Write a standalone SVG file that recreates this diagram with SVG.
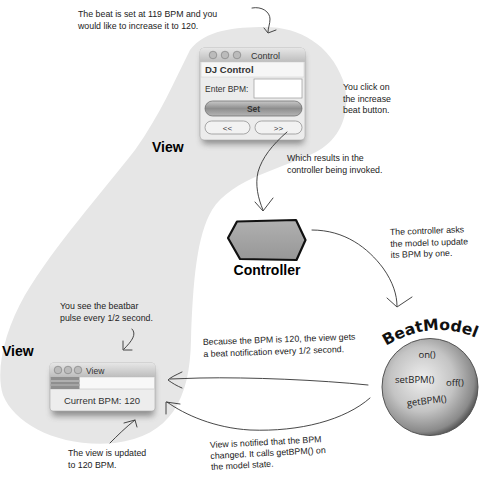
<svg xmlns="http://www.w3.org/2000/svg" width="480" height="483" viewBox="0 0 480 483">
<style>
.note{font-family:"Liberation Sans","DejaVu Sans",sans-serif;font-size:8.8px;fill:#222}
.lbl{font-family:"Liberation Sans",Arial,sans-serif;font-size:14px;font-weight:bold;fill:#000}
.ui{font-family:"Liberation Sans","DejaVu Sans",sans-serif;fill:#333}
.meth{font-family:"Open Sans","DejaVu Sans",sans-serif;font-size:9.5px;fill:#222}
.con{fill:none;stroke:#333;stroke-width:0.9;stroke-linecap:round;stroke-linejoin:round}
.light{fill:#bbb;stroke:#777;stroke-width:0.6}
</style>
<defs>
<linearGradient id="title" x1="0" y1="0" x2="0" y2="1"><stop offset="0" stop-color="#e6e6e6"/><stop offset="1" stop-color="#bdbdbd"/></linearGradient>
<linearGradient id="setbtn" x1="0" y1="0" x2="0" y2="1"><stop offset="0" stop-color="#c9c9c9"/><stop offset="0.5" stop-color="#8e8e8e"/><stop offset="1" stop-color="#b5b5b5"/></linearGradient>
<radialGradient id="ball" cx="0.42" cy="0.42" r="0.6"><stop offset="0" stop-color="#eeeeee"/><stop offset="0.55" stop-color="#c4c4c4"/><stop offset="0.9" stop-color="#8a8a8a"/><stop offset="1" stop-color="#5a5a5a"/></radialGradient>
<linearGradient id="hex" x1="0" y1="0" x2="0" y2="1"><stop offset="0" stop-color="#b0b0b0"/><stop offset="1" stop-color="#979797"/></linearGradient>
<filter id="sh" x="-20%" y="-20%" width="140%" height="160%"><feGaussianBlur stdDeviation="3"/></filter>
<path id="arcBM" d="M386 346 Q432 318 479 339"/>
</defs>

<path id="viewBlob" d="M265 27 C300 27 330 45 343 80 C352 110 342 138 316 152 C285 168 232 178 212 210 C197 235 193 280 191 340 C190 400 170 436 115 443 C60 448 15 425 3 395 C-5 370 5 330 25 295 C55 245 100 195 135 150 C160 115 175 80 190 50 C205 30 235 27 265 27 Z" fill="#e6e6e6"/>

<g id="controlWindow">
<rect x="202" y="54" width="102" height="90" rx="4" fill="#444" opacity="0.55" filter="url(#sh)"/>
<rect x="200" y="48" width="105" height="92" rx="4" fill="#ececec" stroke="#aaa" stroke-width="0.6"/>
<path d="M200 62 V52 a4 4 0 0 1 4 -4 H301 a4 4 0 0 1 4 4 V62 Z" fill="url(#title)"/>
<circle cx="213" cy="55" r="3.8" class="light"/><circle cx="225" cy="55" r="3.8" class="light"/><circle cx="237" cy="55" r="3.8" class="light"/>
<text x="251" y="58.5" class="ui" font-size="9">Control</text>
<rect x="201" y="62" width="103" height="15" fill="#f6f6f6" stroke="#ccc" stroke-width="0.5"/>
<text x="205" y="73" class="ui" font-size="9.5" font-weight="bold" fill="#444">DJ Control</text>
<text x="205" y="92" class="ui" font-size="8.5">Enter BPM:</text>
<rect x="254" y="79" width="48" height="19" fill="#fff" stroke="#999" stroke-width="0.7"/>
<rect x="205" y="101" width="97" height="15" rx="7.5" fill="url(#setbtn)" stroke="#666" stroke-width="0.7"/>
<text x="253.5" y="111.5" class="ui" font-size="8.5" font-weight="bold" text-anchor="middle">Set</text>
<rect x="205" y="121" width="45" height="13" rx="6.5" fill="#f2f2f2" stroke="#888" stroke-width="0.7"/>
<text x="227.5" y="130.5" class="ui" font-size="8" text-anchor="middle">&lt;&lt;</text>
<rect x="255" y="121" width="47" height="13" rx="6.5" fill="#f2f2f2" stroke="#888" stroke-width="0.7"/>
<text x="278.5" y="130.5" class="ui" font-size="8" text-anchor="middle">&gt;&gt;</text>
</g>

<g id="viewLabelTop"><text x="152" y="152" class="lbl">View</text></g>
<g id="viewLabelBottom"><text x="2" y="356" class="lbl">View</text></g>

<g id="viewWindow">
<rect x="52" y="370" width="102" height="46" rx="3" fill="#444" opacity="0.55" filter="url(#sh)"/>
<rect x="50" y="363" width="105" height="48" rx="3" fill="#ededed" stroke="#aaa" stroke-width="0.6"/>
<path d="M50 377 V366 a3 3 0 0 1 3 -3 H152 a3 3 0 0 1 3 3 V377 Z" fill="url(#title)"/>
<circle cx="58" cy="370" r="3.8" class="light"/><circle cx="68" cy="370" r="3.8" class="light"/><circle cx="78" cy="370" r="3.8" class="light"/>
<text x="86" y="373.5" class="ui" font-size="8.5">View</text>
<rect x="50.5" y="377" width="104" height="12" fill="#f8f8f8" stroke="#bbb" stroke-width="0.5"/>
<rect x="50.5" y="377" width="29" height="12" fill="#8f8f8f"/>
<rect x="50.5" y="380" width="29" height="2" fill="#b0b0b0"/>
<rect x="50.5" y="384" width="29" height="2" fill="#a5a5a5"/>
<text x="102" y="403.5" class="ui" font-size="9.5" text-anchor="middle">Current BPM: 120</text>
</g>

<g id="controller">
<path d="M237 221.5 L296 220 L305.5 240 L296.5 260 L240 259 L228 238 Z" fill="url(#hex)" stroke="#111" stroke-width="2.2" stroke-linejoin="round"/>
<text x="267" y="275" class="lbl" font-size="13.5" text-anchor="middle">Controller</text>
</g>

<g id="beatModel">
<ellipse cx="430" cy="387" rx="48" ry="48.5" fill="url(#ball)" stroke="#555" stroke-width="1"/>
<text font-family="DejaVu Sans,Verdana,sans-serif" font-weight="bold" font-size="15.5" fill="#111"><textPath href="#arcBM" textLength="94" lengthAdjust="spacingAndGlyphs">BeatModel</textPath></text>
<text x="427" y="358" class="meth" text-anchor="middle">on()</text>
<text x="395" y="383" class="meth">setBPM()</text>
<text x="446" y="386" class="meth">off()</text>
<text x="427" y="404" class="meth" text-anchor="middle" transform="rotate(-7 427 404)">getBPM()</text>
</g>

<g id="notes">
<text class="note"><tspan x="78" y="17">The beat is set at 119 BPM and you</tspan><tspan x="78" y="29">would like to increase it to 120.</tspan></text>
<text class="note"><tspan x="343" y="90">You click on</tspan><tspan x="343" y="102">the increase</tspan><tspan x="343" y="113">beat button.</tspan></text>
<text class="note"><tspan x="287" y="161">Which results in the</tspan><tspan x="287" y="173">controller being invoked.</tspan></text>
<text class="note" transform="rotate(-2 390 235)"><tspan x="390" y="235">The controller asks</tspan><tspan x="390" y="247">the model to update</tspan><tspan x="390" y="258">its BPM by one.</tspan></text>
<text class="note"><tspan x="60" y="309">You see the beatbar</tspan><tspan x="60" y="321">pulse every 1/2 second.</tspan></text>
<text class="note" transform="rotate(-2 203 345)"><tspan x="203" y="345">Because the BPM is 120, the view gets</tspan><tspan x="203" y="357">a beat notification every 1/2 second.</tspan></text>
<text class="note"><tspan x="68" y="456">The view is updated</tspan><tspan x="68" y="468">to 120 BPM.</tspan></text>
<text class="note" transform="rotate(-3 210 448)"><tspan x="210" y="448">View is notified that the BPM</tspan><tspan x="210" y="459">changed.  It calls getBPM() on</tspan><tspan x="210" y="470">the model state.</tspan></text>
</g>

<g id="connectors">
<path class="con" d="M252 8 C262 6 270 12 270 19 C270 24 268 28 268 32"/>
<path class="con" d="M264 28 L268 33 L276 30"/>
<path class="con" d="M287 132 C272 145 262 158 258 172 C255 185 258 198 263 210"/>
<path class="con" d="M255 202 L263 211 L273 198"/>
<path class="con" d="M312 230 C345 230 368 248 383 268 C393 282 397 295 397 306"/>
<path class="con" d="M387 298 L397 307 L412 297"/>
<path class="con" d="M132 329 C137 334 132 341 124 349"/>
<path class="con" d="M123 341 L123 350 L132 350"/>
<path class="con" d="M368 385 C320 380 250 377 200 378 C190 378 180 379 170 379"/>
<path class="con" d="M182 372 C176 375 171 377 168 380 C172 383 177 386 182 388"/>
<path class="con" d="M370 398 C345 420 300 432 250 430 C215 428 185 415 167 402"/>
<path class="con" d="M166 414 L166 402 L180 404"/>
<path class="con" d="M110 443 C118 435 125 428 135 420"/>
<path class="con" d="M124 423 L135 420 L137 427"/>
</g>
</svg>
